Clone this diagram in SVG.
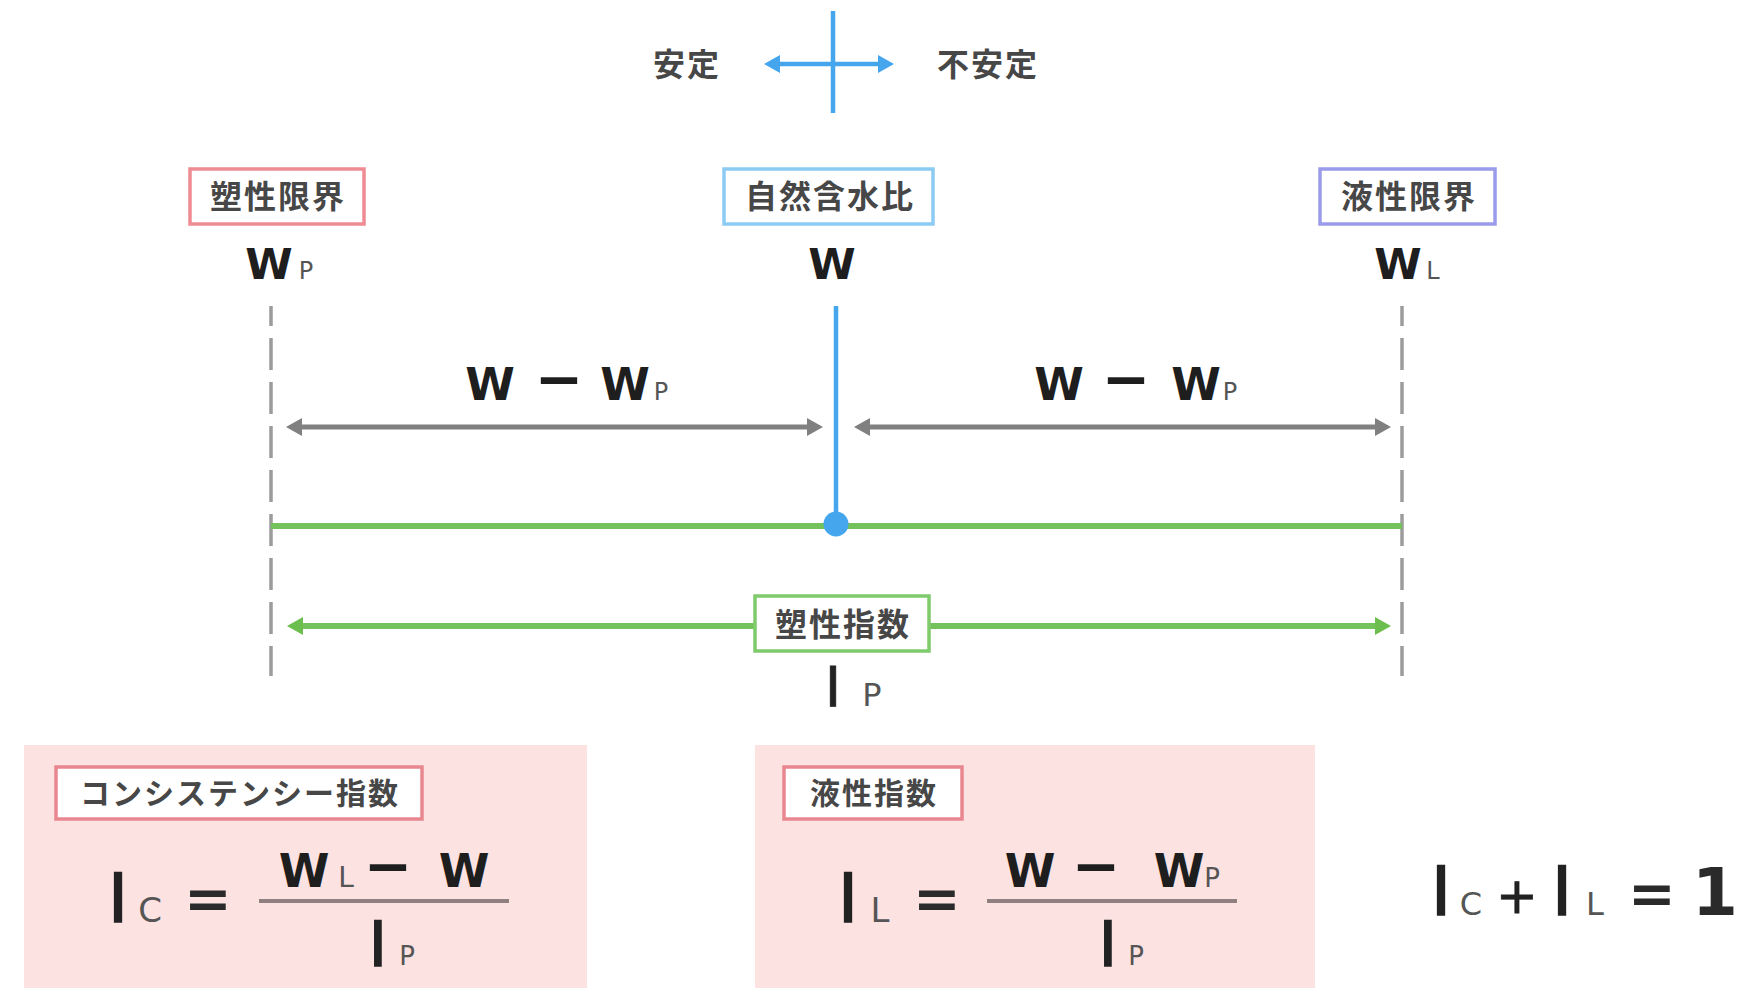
<svg xmlns="http://www.w3.org/2000/svg" width="1742" height="988" viewBox="0 0 1742 988">
<defs>
<style>
.jp{font-family:"Noto Sans CJK JP","Noto Sans",sans-serif;font-weight:bold;fill:#474747;font-size:32px;letter-spacing:2px;text-anchor:middle}
.jps{font-size:30px}
.wb{font-family:"DejaVu Sans",sans-serif;font-weight:bold;fill:#1e1e1e;text-anchor:middle}
.mn{font-size:58px}
.sub{font-family:"DejaVu Sans",sans-serif;font-weight:normal;fill:#555;text-anchor:middle}
.fi{font-family:"DejaVu Sans",sans-serif;font-weight:normal;fill:#222;stroke:#222;stroke-width:1.6;text-anchor:middle}
.eq{font-family:"DejaVu Sans",sans-serif;font-weight:bold;fill:#2a2a2a;text-anchor:middle}
.lbl{fill:#fff;stroke-width:3.5}
.panel{fill:#fde2e2}
.frac{stroke:#8f7f80;stroke-width:4}
.dash{stroke:#9c9c9c;stroke-width:3.5;stroke-dasharray:32 12;stroke-dashoffset:12;fill:none}
.blue{stroke:#45a6ee;stroke-width:4.5;fill:none}
.gray{stroke:#808080;stroke-width:5;fill:none}
.green{stroke:#74c25c;stroke-width:6;fill:none}
</style>
<marker id="ah-gray" viewBox="0 0 16 18" refX="5" refY="9" markerWidth="16" markerHeight="18" markerUnits="userSpaceOnUse" orient="auto-start-reverse"><path d="M0,0 L16,9 L0,18 z" fill="#808080"/></marker>
<marker id="ah-blue" viewBox="0 0 16 18" refX="5" refY="9" markerWidth="16" markerHeight="18" markerUnits="userSpaceOnUse" orient="auto-start-reverse"><path d="M0,0 L16,9 L0,18 z" fill="#45a6ee"/></marker>
<marker id="ah-green" viewBox="0 0 16 18" refX="5" refY="9" markerWidth="16" markerHeight="18" markerUnits="userSpaceOnUse" orient="auto-start-reverse"><path d="M0,0 L16,9 L0,18 z" fill="#6cbf4f"/></marker>
</defs>
<rect width="1742" height="988" fill="#fff"/>

<g id="connectors">
<line class="dash" x1="271" y1="306" x2="271" y2="676"/>
<line class="dash" x1="1402" y1="306" x2="1402" y2="676"/>
<line class="gray" x1="297" y1="427" x2="812" y2="427" marker-start="url(#ah-gray)" marker-end="url(#ah-gray)"/>
<line class="gray" x1="865" y1="427" x2="1380" y2="427" marker-start="url(#ah-gray)" marker-end="url(#ah-gray)"/>
<line class="green" x1="271" y1="526" x2="1402" y2="526"/>
<line class="blue" x1="836" y1="306" x2="836" y2="524"/>
<circle cx="836" cy="524" r="12.5" fill="#45a6ee"/>
<line class="green" x1="298" y1="626" x2="1380" y2="626" marker-start="url(#ah-green)" marker-end="url(#ah-green)"/>
</g>

<g id="stability">
<line class="blue" x1="833" y1="11" x2="833" y2="113"/>
<line class="blue" x1="775" y1="64" x2="883" y2="64" marker-start="url(#ah-blue)" marker-end="url(#ah-blue)"/>
<text class="jp" x="687" y="76">安定</text>
<text class="jp" x="988" y="76">不安定</text>
</g>

<g id="plastic-limit">
<rect class="lbl" x="190" y="169" width="174" height="55" stroke="#ee8b93"/>
<text class="jp" x="278" y="208">塑性限界</text>
<text class="wb" font-size="43"><tspan x="269" y="279">W</tspan></text>
<text class="sub" font-size="24"><tspan x="306" y="279">P</tspan></text>
</g>

<g id="natural-water-content">
<rect class="lbl" x="724" y="169" width="209" height="55" stroke="#8ccbf3"/>
<text class="jp" x="830" y="208">自然含水比</text>
<text class="wb" font-size="43"><tspan x="832" y="279">W</tspan></text>
</g>

<g id="liquid-limit">
<rect class="lbl" x="1320" y="169" width="175" height="55" stroke="#9b9bec"/>
<text class="jp" x="1409" y="208">液性限界</text>
<text class="wb" font-size="43"><tspan x="1398" y="279">W</tspan></text>
<text class="sub" font-size="24"><tspan x="1433" y="279">L</tspan></text>
</g>

<g id="diff-left">
<text class="wb" font-size="45"><tspan x="490" y="400">W</tspan><tspan class="mn" x="559" y="399">−</tspan><tspan x="625" y="400">W</tspan></text>
<text class="sub" font-size="24"><tspan x="661" y="400">P</tspan></text>
</g>

<g id="diff-right">
<text class="wb" font-size="45"><tspan x="1059" y="400">W</tspan><tspan class="mn" x="1126" y="399">−</tspan><tspan x="1196" y="400">W</tspan></text>
<text class="sub" font-size="24"><tspan x="1230" y="400">P</tspan></text>
</g>

<g id="plasticity-index">
<rect class="lbl" x="755" y="596" width="174" height="55" stroke="#7fcb6c"/>
<text class="jp" x="843" y="636">塑性指数</text>
<text class="fi" font-size="56" style="stroke-width:0.8"><tspan x="833" y="706">I</tspan></text>
<text class="sub" font-size="32"><tspan x="872" y="706">P</tspan></text>
</g>

<g id="consistency-index">
<rect class="panel" x="24" y="745" width="563" height="243"/>
<rect class="lbl" x="56" y="767" width="366" height="52" stroke="#e8878f"/>
<text class="jp jps" x="240" y="804">コンシステンシー指数</text>
<text class="fi" font-size="68"><tspan x="118" y="922">I</tspan></text>
<text class="sub" font-size="34"><tspan x="150" y="922">C</tspan></text>
<text class="eq" font-size="57"><tspan x="208" y="918">=</tspan></text>
<line class="frac" x1="259" y1="901" x2="509" y2="901"/>
<text class="wb" font-size="46"><tspan x="304" y="887">W</tspan><tspan class="mn" x="388" y="886">−</tspan><tspan x="464" y="887">W</tspan></text>
<text class="sub" font-size="28"><tspan x="346" y="887">L</tspan></text>
<text class="fi" font-size="62"><tspan x="378" y="966">I</tspan></text>
<text class="sub" font-size="26"><tspan x="407" y="965">P</tspan></text>
</g>

<g id="liquidity-index">
<rect class="panel" x="755" y="745" width="560" height="243"/>
<rect class="lbl" x="784" y="767" width="178" height="52" stroke="#e8878f"/>
<text class="jp jps" x="874" y="804">液性指数</text>
<text class="fi" font-size="68"><tspan x="848" y="922">I</tspan></text>
<text class="sub" font-size="34"><tspan x="880" y="922">L</tspan></text>
<text class="eq" font-size="57"><tspan x="937" y="918">=</tspan></text>
<line class="frac" x1="987" y1="901" x2="1237" y2="901"/>
<text class="wb" font-size="46"><tspan x="1030" y="887">W</tspan><tspan class="mn" x="1096" y="886">−</tspan><tspan x="1179" y="887">W</tspan></text>
<text class="sub" font-size="26"><tspan x="1212" y="887">P</tspan></text>
<text class="fi" font-size="62"><tspan x="1108" y="966">I</tspan></text>
<text class="sub" font-size="26"><tspan x="1136" y="965">P</tspan></text>
</g>

<g id="sum-equation">
<text class="fi" font-size="68"><tspan x="1441" y="915">I</tspan></text>
<text class="sub" font-size="32" fill="#333"><tspan x="1471" y="915">C</tspan></text>
<text class="fi" font-size="50" style="stroke-width:0.8"><tspan x="1517" y="913">+</tspan></text>
<text class="fi" font-size="68"><tspan x="1562" y="915">I</tspan></text>
<text class="sub" font-size="32" fill="#333"><tspan x="1595" y="915">L</tspan></text>
<text class="eq" font-size="57"><tspan x="1652" y="913">=</tspan></text>
<text class="eq" font-size="66"><tspan x="1715" y="915">1</tspan></text>
</g>
</svg>
